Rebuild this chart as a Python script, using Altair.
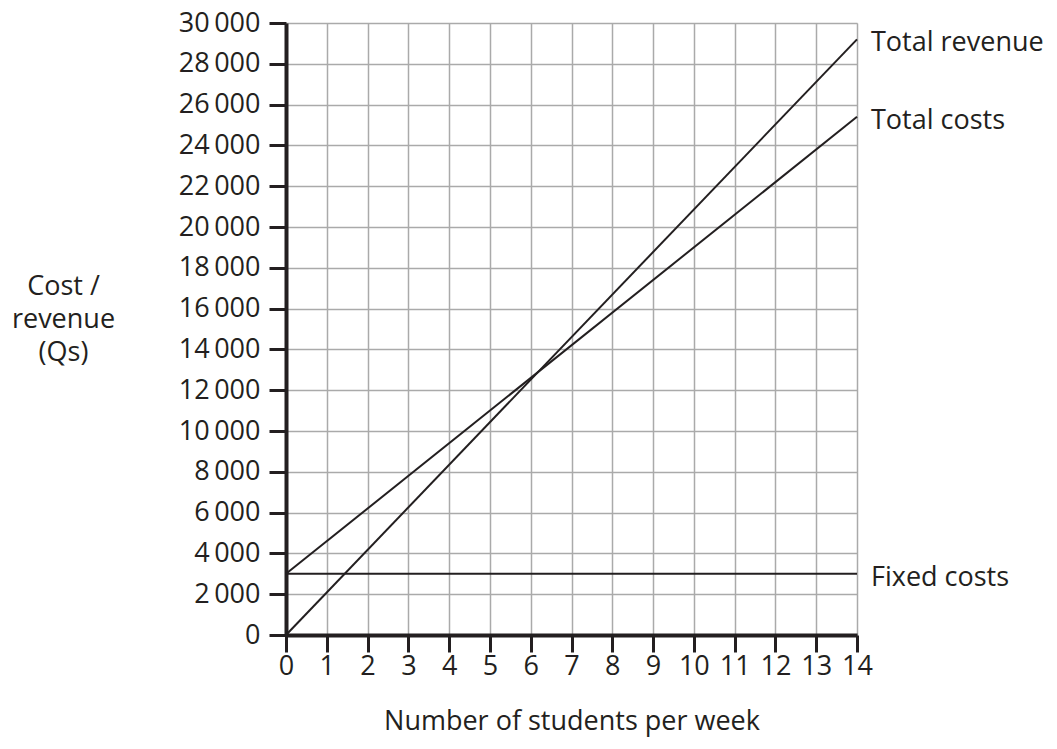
import altair as alt
import pandas as pd

students = [0, 14]
total_revenue = [0, 29200]
total_costs = [3000, 25400]
fixed_costs = [3000, 3000]
series_names = ["Total revenue", "Total costs", "Fixed costs"]
x_ticks = list(range(0, 15))
y_ticks = list(range(0, 30001, 2000))

rows = []
for name, vals in zip(series_names, [total_revenue, total_costs, fixed_costs]):
    for s, v in zip(students, vals):
        rows.append({"series": name, "students": s, "value": v})
df = pd.DataFrame(rows)
labels_df = df[df["students"] == 14]

FONT = "Open Sans"
FS = 27
INK = "#231f20"

x = alt.X("students:Q",
          scale=alt.Scale(domain=[0, 14], nice=False),
          axis=alt.Axis(values=x_ticks, title="Number of students per week",
                        titleFontSize=FS, titleFontWeight="normal", titleFont=FONT,
                        titleColor=INK, titlePadding=29,
                        labelFontSize=FS, labelFont=FONT, labelColor=INK,
                        labelFlush=False, labelOverlap=False,
                        labelPadding=1, tickSize=17, tickWidth=3, tickColor=INK,
                        domainWidth=4, domainColor=INK,
                        gridColor="#aaaaaa", gridWidth=1.5))
y = alt.Y("value:Q",
          scale=alt.Scale(domain=[0, 30000], nice=False),
          axis=alt.Axis(values=y_ticks, title=["Cost /", "revenue", "(Qs)"],
                        titleAngle=0, titleAlign="center", titleBaseline="top",
                        titleX=-223, titleY=250, titleLineHeight=33,
                        titleFontSize=FS, titleFontWeight="normal", titleFont=FONT,
                        titleColor=INK,
                        labelExpr="replace(format(datum.value, ','), ',', '\u2009')",
                        labelFontSize=FS, labelFont=FONT, labelColor=INK,
                        labelFlush=False, labelOverlap=False,
                        labelPadding=9, tickSize=17, tickWidth=3, tickColor=INK,
                        domainWidth=4, domainColor=INK,
                        gridColor="#aaaaaa", gridWidth=1.5))

lines = alt.Chart(df).mark_line(color=INK, strokeWidth=2).encode(
    x=x, y=y, detail="series:N")

labels = alt.Chart(labels_df).mark_text(
    align="left", baseline="middle", dx=14, dy=4, font=FONT, fontSize=FS,
    color=INK).encode(
    x="students:Q", y="value:Q", text="series:N")

chart = (lines + labels).properties(
    width=571, height=612,
    autosize=alt.AutoSizeParams(type="none"),
    padding={"left": 278, "top": 15, "right": 192, "bottom": 106},
).configure_view(stroke=None).configure(background="white")

chart.save("out.html", embed_options={"renderer": "svg", "actions": False})
